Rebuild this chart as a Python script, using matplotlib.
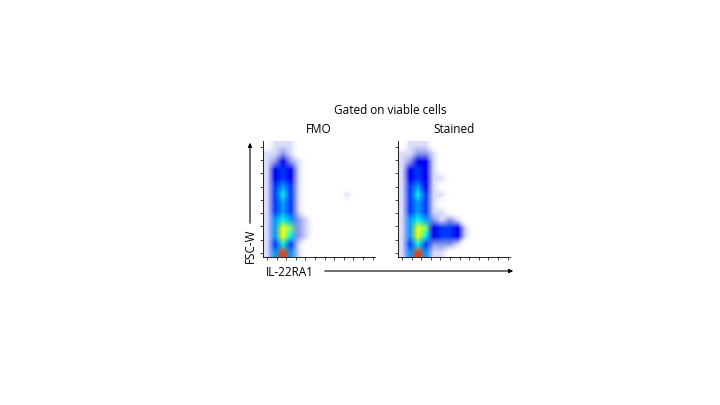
import numpy as np
import matplotlib
matplotlib.use("Agg")
import matplotlib.pyplot as plt
from matplotlib import cm

plt.rcParams["font.family"] = ["Open Sans", "DejaVu Sans"]

# density grid, rows top -> bottom, 0 = empty, 9 = densest
fmo_grid = [
    "01110000000000",
    "11210000000000",
    "12321000000000",
    "13431000000000",
    "13431000000000",
    "14541000000000",
    "14641000001000",
    "14541000000000",
    "14541000000000",
    "15652100000000",
    "15872100000000",
    "15862100000000",
    "14641000000000",
    "15951000000000",
]
stained_grid = [
    "01110000000000",
    "11221000000000",
    "12331000000000",
    "13431000000000",
    "13431100000000",
    "14531000000000",
    "14641100000000",
    "14541000000000",
    "14541100000000",
    "15652121000000",
    "15873443100000",
    "15863443100000",
    "14642221000000",
    "15951100000000",
]
panel_titles = ["FMO", "Stained"]

level_pos = {3: 0.1, 4: 0.18, 5: 0.28, 6: 0.36, 7: 0.5, 8: 0.64, 9: 0.85}


def to_rgba(grid):
    vals = np.array([[int(c) for c in row] for row in grid])
    img = np.ones(vals.shape + (4,))
    img[..., 3] = 0
    jet = cm.get_cmap("jet")
    for (i, j), v in np.ndenumerate(vals):
        if v == 1:
            img[i, j] = (0.2, 0.25, 0.9, 0.18)
        elif v == 2:
            img[i, j] = (0.1, 0.2, 0.85, 0.5)
        elif v >= 3:
            img[i, j] = jet(level_pos[v])
    return img


fig = plt.figure(figsize=(7.2, 4.05), dpi=100)
lefts = [263 / 720, 398 / 720]
for left, grid, title in zip(lefts, [fmo_grid, stained_grid], panel_titles):
    ax = fig.add_axes([left, 1 - 257 / 405, 112 / 720, 116 / 405])
    ax.imshow(to_rgba(grid), extent=[0, 14, 0, 14], interpolation="bilinear", aspect="auto")
    ax.set_xlim(0, 14)
    ax.set_ylim(0, 14)
    for s in ["top", "right"]:
        ax.spines[s].set_visible(False)
    for s in ["left", "bottom"]:
        ax.spines[s].set_linewidth(0.6)
    ax.set_xticks(np.arange(0.5, 14, 1.2))
    ax.set_yticks(np.arange(0.5, 14, 1.6))
    ax.tick_params(length=2, width=0.5, labelbottom=False, labelleft=False)
    ax.set_title(title, fontsize=8.5, pad=6)

fig.text(390 / 720, 1 - 110 / 405, "Gated on viable cells", ha="center", va="center", fontsize=8.5)
fig.text(250 / 720, 1 - 246 / 405, "FSC-W", rotation=90, ha="center", va="center", fontsize=8.5)
fig.text(290 / 720, 1 - 272 / 405, "IL-22RA1", ha="center", va="center", fontsize=8.5)
fig.add_artist(matplotlib.patches.FancyArrowPatch(
    (250 / 720, 1 - 226 / 405), (250 / 720, 1 - 140 / 405),
    transform=fig.transFigure, arrowstyle="-|>", mutation_scale=6, lw=0.8, color="black"))
fig.add_artist(matplotlib.patches.FancyArrowPatch(
    (322 / 720, 1 - 271 / 405), (516 / 720, 1 - 271 / 405),
    transform=fig.transFigure, arrowstyle="-|>", mutation_scale=6, lw=0.8, color="black"))

fig.savefig("out.png", dpi=100)
